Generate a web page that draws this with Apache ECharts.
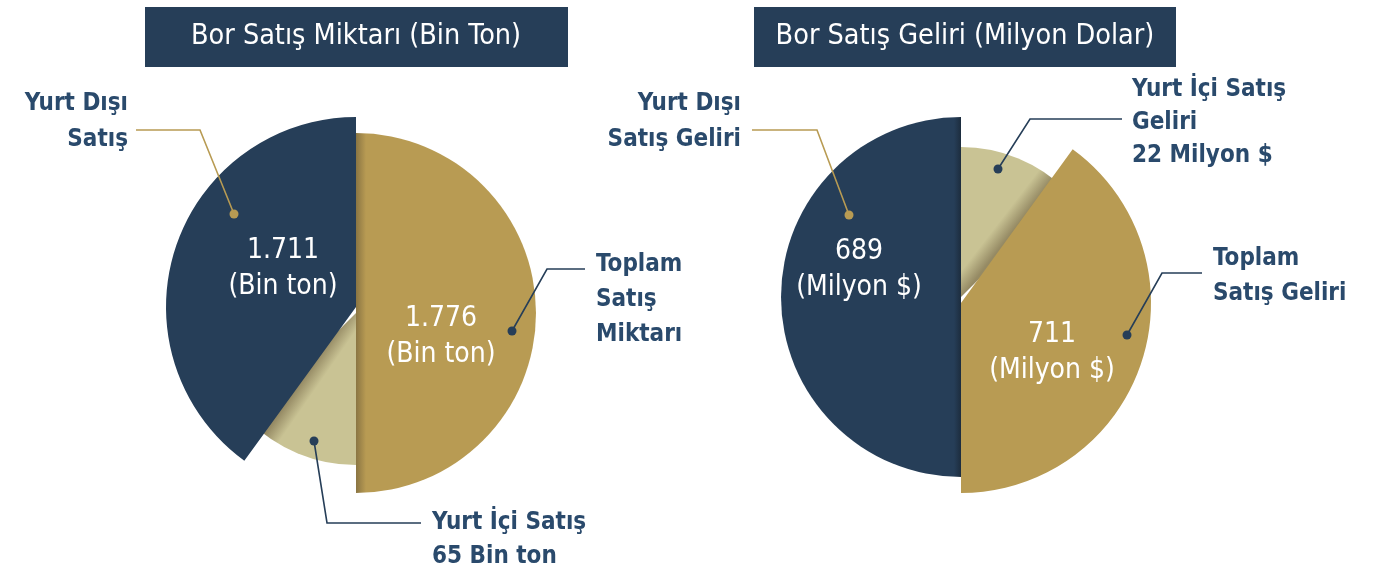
<!DOCTYPE html>
<html><head><meta charset="utf-8">
<script src="https://cdn.jsdelivr.net/npm/echarts@6/dist/echarts.min.js"></script>
<style>html,body{margin:0;padding:0;background:#fff}#c{width:1376px;height:573px}</style>
</head><body><div id="c"></div>
<script>
// ---- data ----
const titles = ['Bor Satış Miktarı (Bin Ton)', 'Bor Satış Geliri (Milyon Dolar)'];
const leftNames = ['Toplam\nSatış\nMiktarı', 'Yurt Dışı\nSatış', 'Yurt İçi Satış'];
const leftValues = [1776, 1711, 65];
const leftUnit = 'Bin ton';
const rightNames = ['Toplam\nSatış Geliri', 'Yurt Dışı\nSatış Geliri', 'Yurt İçi Satış\nGeliri'];
const rightValues = [711, 689, 22];
const rightUnit = 'Milyon $';

// ---- style ----
const NAVY = '#263e58', GOLD = '#b89b53', BEIGE = '#c9c394', TXT = '#2a4a6c';
const FONT = '"DejaVu Sans Condensed","Liberation Sans Narrow",Roboto,sans-serif';
const fmt = v => String(v).replace(/\B(?=(\d{3})+(?!\d))/g, '.');
const grad = (x, y, x2, y2, c0, c1) => ({type: 'linear', x: x, y: y, x2: x2, y2: y2, global: true,
  colorStops: [{offset: 0, color: c0}, {offset: 1, color: c1}]});

function slice(name, value, color, center, r, start, end, z) {
  return {
    type: 'pie', center: center, radius: [0, r], startAngle: start, endAngle: end,
    clockwise: true, silent: true, animation: false, z: z,
    label: {show: false}, labelLine: {show: false},
    itemStyle: {color: color, borderWidth: 0},
    data: [{name: name, value: value}]
  };
}

const series = [
  // left chart
  slice(leftNames[2], leftValues[2], grad(297, 388, 310, 397, '#958a64', BEIGE), [356, 313], 152, 270, 225, 1),
  slice(leftNames[0], leftValues[0], grad(356, 0, 366, 0, '#8a7543', GOLD), [356, 313], 180, 90, -90, 2),
  slice(leftNames[1], leftValues[1], NAVY, [356, 307], 190, 234, 90, 3),
  // right chart
  slice(rightNames[2], rightValues[2], grad(1032, 206, 1019, 196, '#958a64', BEIGE), [961, 297], 150, 90, 45, 1),
  slice(rightNames[1], rightValues[1], grad(962, 0, 954, 0, '#1b2a3a', NAVY), [961, 297], 180, 270, 90, 2),
  slice(rightNames[0], rightValues[0], GOLD, [961, 303], 190, 54, -90, 3)
];

function txt(text, x, y, opt) {
  return {type: 'text', z: 100, style: Object.assign({
    text: text, x: x, y: y, font: 'bold 24px ' + FONT, fill: TXT,
    textAlign: 'left', textVerticalAlign: 'middle', lineHeight: 35
  }, opt || {})};
}
function leader(points, color) {
  const p = points[points.length - 1];
  return [
    {type: 'polyline', z: 90, shape: {points: points}, style: {stroke: color, lineWidth: 1.6, fill: null}},
    {type: 'circle', z: 91, shape: {cx: p[0], cy: p[1], r: 4.5}, style: {fill: color}}
  ];
}
const inner = {fill: '#ffffff', font: '28px ' + FONT, textAlign: 'center', lineHeight: 36};

const graphic = [
  {type: 'rect', shape: {x: 145, y: 7, width: 423, height: 60}, style: {fill: NAVY}},
  {type: 'rect', shape: {x: 754, y: 7, width: 422, height: 60}, style: {fill: NAVY}},
  txt(titles[0], 356, 37, {fill: '#fff', font: '28.5px ' + FONT, textAlign: 'center'}),
  txt(titles[1], 965, 37, {fill: '#fff', font: '28.5px ' + FONT, textAlign: 'center'}),
  // left chart
  txt(fmt(leftValues[1]) + '\n(' + leftUnit + ')', 283, 269, inner),
  txt(fmt(leftValues[0]) + '\n(' + leftUnit + ')', 441, 337, inner),
  txt(leftNames[1], 128, 122, {textAlign: 'right', lineHeight: 36}),
  txt(leftNames[0], 596, 300),
  txt(leftNames[2] + '\n' + leftValues[2] + ' ' + leftUnit, 432, 540, {lineHeight: 34}),
  ...leader([[136, 130], [200, 130], [234, 214]], GOLD),
  ...leader([[585, 269], [547, 269], [512, 331]], NAVY),
  ...leader([[421, 523], [327, 523], [314, 441]], NAVY),
  // right chart
  txt(fmt(rightValues[1]) + '\n(' + rightUnit + ')', 859, 270, inner),
  txt(fmt(rightValues[0]) + '\n(' + rightUnit + ')', 1052, 353, inner),
  txt(rightNames[1], 741, 122, {textAlign: 'right', lineHeight: 36}),
  txt(rightNames[2] + '\n' + rightValues[2] + ' ' + rightUnit, 1132, 123, {lineHeight: 33}),
  txt(rightNames[0], 1213, 276),
  ...leader([[752, 130], [817, 130], [849, 215]], GOLD),
  ...leader([[1122, 119], [1030, 119], [998, 169]], NAVY),
  ...leader([[1202, 273], [1162, 273], [1127, 335]], NAVY)
];

const chart = echarts.init(document.getElementById('c'), null, {renderer: 'canvas'});
chart.setOption({animation: false, series: series, graphic: graphic});
</script></body></html>
